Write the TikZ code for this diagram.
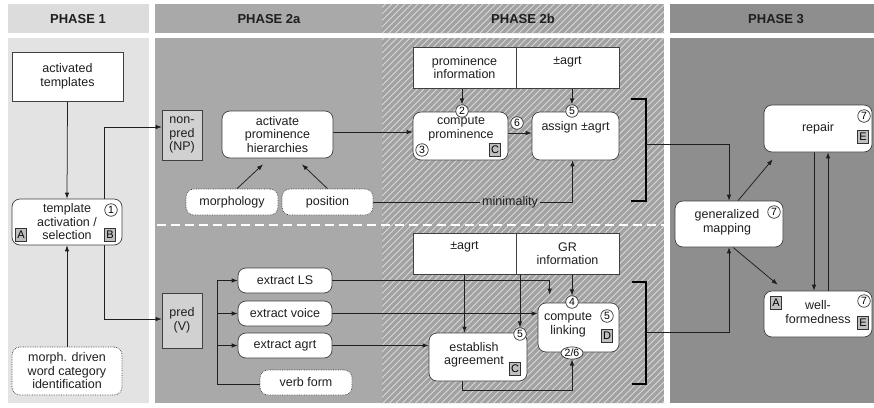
\documentclass[tikz,border=0pt]{standalone}
\usepackage{fontspec}
\setmainfont{Liberation Sans}
\usetikzlibrary{arrows.meta,calc,shapes.geometric}
\pgfdeclarelayer{bg}\pgfdeclarelayer{lines}
\pgfsetlayers{bg,lines,main}
\definecolor{pOneHd}{HTML}{DCDCDC}
\definecolor{pOneBd}{HTML}{E3E3E3}
\definecolor{pTwoA}{HTML}{A9A9A9}
\definecolor{pTwoB}{HTML}{A2A2A2}
\definecolor{hatchc}{HTML}{D8D8D8}
\definecolor{pThree}{HTML}{8E8E8E}
\begin{document}
\begin{tikzpicture}[x=1pt,y=-1pt,
  txt/.style={font=\fontsize{12.5}{13.5}\selectfont, align=center, text=black!88},
  box/.style={txt, draw=black!75, fill=white, line width=0.7pt, inner sep=0pt},
  rbox/.style={box, rounded corners=8pt},
  dbox/.style={rbox, densely dotted},
  gbox/.style={box, fill=black!18},
  circ/.style={circle, draw=black!80, fill=white, line width=0.7pt, inner sep=0pt, minimum size=12.5pt, font=\fontsize{10.5}{10}\selectfont},
  ovl/.style={ellipse, draw=black!80, fill=white, line width=0.7pt, inner sep=0.5pt, minimum height=12pt, font=\fontsize{10.5}{10}\selectfont},
  lbox/.style={draw=black!80, fill=black!25, line width=0.6pt, inner sep=0pt, minimum width=10.5pt, minimum height=12.5pt, font=\fontsize{11}{10}\selectfont},
  arr/.style={-{Latex[length=6pt,width=4.5pt]}, line width=0.75pt, draw=black!88},
  plain/.style={line width=0.75pt, draw=black!88},
  brk/.style={line width=1.5pt, draw=black},
  hdr/.style={font=\fontsize{13}{13}\selectfont\bfseries, text=black!88},
  hatch/.style={draw=hatchc, line width=1pt}
]
\useasboundingbox (0,0) rectangle (874,407);
\begin{pgfonlayer}{bg}
  \fill[white] (0,0) rectangle (874,407);
  \fill[pOneHd] (8,4) rectangle (149,33);
  \fill[pOneBd] (8,38) rectangle (149,403);
  \fill[pTwoA] (155,4) rectangle (382,33);
  \fill[pTwoA] (155,38) rectangle (382,403);
  \begin{scope}
    \clip (382,4) rectangle (664,33) (382,38) rectangle (664,403);
    \fill[pTwoB] (382,0) rectangle (664,407);
    \foreach \i in {-40,-33.5,...,670} \draw[hatch] (\i,410) -- ++(420,-420);
  \end{scope}
  \fill[pThree] (670,4) rectangle (874,33);
  \fill[pThree] (670,38) rectangle (874,403);
  \draw[white, line width=1.6pt, dash pattern=on 9pt off 5pt] (157,225) -- (664,225);
  \node[hdr] at (78,19) {PHASE 1};
  \node[hdr] at (269,19) {PHASE 2a};
  \node[hdr] at (523,19) {PHASE 2b};
  \node[hdr] at (776,19) {PHASE 3};
\end{pgfonlayer}

% Phase 1
\node[box, minimum width=111pt, minimum height=49pt] (at) at (67.5,76.5) {activated\\templates};
\node[rbox, minimum width=110pt, minimum height=46pt] (tas) at (67,222) {template\\activation /\\selection};
\node[circ] (c1) at (111,210) {1};
\node[lbox] at (21,235) {A};
\node[lbox] at (110,235) {B};
\node[dbox, minimum width=110pt, minimum height=48pt] (morph) at (67,371) {morph. driven\\word category\\identification};

% Phase 2a
\node[gbox, minimum width=40pt, minimum height=50pt] (np) at (182,135) {non-\\pred\\(NP)};
\node[gbox, minimum width=40pt, minimum height=55pt] (pv) at (182,320.5) {pred\\(V)};
\node[rbox, minimum width=111pt, minimum height=47pt] (aph) at (277.5,134.5) {activate\\prominence\\hierarchies};
\node[dbox, minimum width=92pt, minimum height=26pt] (morphology) at (232,202) {morphology};
\node[dbox, minimum width=91pt, minimum height=26pt] (position) at (327.5,202) {position};
\node[rbox, minimum width=94pt, minimum height=25pt] (els) at (285,280.5) {extract LS};
\node[rbox, minimum width=94pt, minimum height=25pt] (evo) at (285,313.5) {extract voice};
\node[rbox, minimum width=94pt, minimum height=25pt] (eag) at (285,345.5) {extract agrt};
\node[dbox, minimum width=92pt, minimum height=25pt] (vf) at (306,382.5) {verb form};

% Phase 2b upper
\node[box, minimum width=103pt, minimum height=41pt] (pinfo) at (464.5,67.5) {prominence\\information};
\node[box, minimum width=103pt, minimum height=41pt] (agrtA) at (567.5,67.5) {};
\node[txt] at (567.5,62) {±agrt};
\node[rbox, minimum width=95pt, minimum height=48pt] (cp) at (460.5,136) {};
\node[txt] at (461,129) {compute\\prominence};
\node[circ] (c2) at (462,111) {2};
\node[circ] at (422,150) {3};
\node[lbox] at (495,150) {C};
\node[rbox, minimum width=87pt, minimum height=48pt] (asg) at (575.5,136) {};
\node[txt] at (575.5,127) {assign ±agrt};
\node[circ] (c5a) at (572,111) {5};
\node[circ] (c6) at (517,123) {6};
\node[txt, inner sep=2pt] (mini) at (510,202) {minimality};

% Phase 2b lower
\node[box, minimum width=103pt, minimum height=41pt] (agrtB) at (464.5,253.5) {};
\node[txt] at (464.5,247) {±agrt};
\node[box, minimum width=103pt, minimum height=41pt] (gr) at (567.5,253.5) {};
\node[txt] at (567.5,253.5) {GR\\information};
\node[rbox, minimum width=81pt, minimum height=49pt] (cl) at (578.5,327.5) {};
\node[txt] at (568,324.5) {compute\\linking};
\node[circ] (c4) at (572,302) {4};
\node[circ] at (607,316) {5};
\node[lbox] at (607,336) {D};
\node[ovl] (c26) at (572,353) {2/6};
\node[rbox, minimum width=98pt, minimum height=48pt] (ea) at (478,357) {};
\node[txt] at (474,355) {establish\\agreement};
\node[circ] (c5e) at (520,334) {5};
\node[lbox] at (515,369) {C};

% Phase 3
\node[rbox, minimum width=108pt, minimum height=46pt] (gm) at (729,224) {};
\node[txt] at (727,222.5) {generalized\\mapping};
\node[circ] at (774,212) {7};
\node[rbox, minimum width=108pt, minimum height=47pt] (rep) at (818,128.5) {repair};
\node[circ] at (864,116) {7};
\node[lbox] at (863,137) {E};
\node[rbox, minimum width=108pt, minimum height=46pt] (wf) at (818,314) {};
\node[txt] at (818,312) {well-\\formedness};
\node[circ] at (864,301) {7};
\node[lbox] at (863,323) {E};
\node[lbox] at (776,303) {A};

\begin{pgfonlayer}{lines}
  % Phase 1
  \draw[arr] (at.south) -- (tas.north);
  \draw[arr] (morph.north) -- (tas.south);
  \coordinate (t1) at (104,127);
  \coordinate (t2) at (104,319);
  \draw[plain, {Latex[length=6pt,width=4.5pt]}-{Latex[length=6pt,width=4.5pt]}] (t1 -| np.west) -- (t1) -- (t2) -- (t2 -| pv.west);
  % Phase 2a
  \draw[arr] ($(morphology.north)+(5,0)$) -- ($(aph.south)+(-14.5,6)$);
  \draw[arr] (position.north) -- ($(aph.south)+(24.5,6)$);
  \draw[arr] (aph.east |- 0,132) -- (cp.west |- 0,132);
  \draw[plain] (position.east) -- (mini.west);
  \draw[arr] (mini.east) -| ($(asg.south)+(-3,0)$);
  \coordinate (tr) at (217,0);
  \draw[plain] (tr |- els.west) -- (tr |- 0,384) -- (vf.west |- 0,384);
  \draw[arr] (tr |- els.west) -- (els.west);
  \draw[arr] (tr |- evo.west) -- (evo.west);
  \draw[arr] (tr |- eag.west) -- (eag.west);
  % Phase 2b upper
  \draw[arr] (pinfo.south -| c2) -- (c2.north);
  \draw[arr] (agrtA.south -| c5a) -- (c5a.north);
  \draw[arr] (cp.east |- 0,133) -- (asg.west |- 0,133);
  % Phase 2b lower
  \draw[arr] (els.east) -| ($(cl.north west)+(12,-8)$);
  \draw[arr] (evo.east) -- (evo.east -| cl.west);
  \draw[arr] (eag.east) -- (eag.east -| ea.west);
  \draw[arr] (agrtB.south) -- (agrtB.south |- ea.north);
  \draw[arr] (c5e.north |- agrtB.south) -- (c5e.north);
  \draw[arr] (c4.north |- gr.south) -- (c4.north);
  \draw[arr] ($(ea.south)+(-16,0)$) -- ++(0,9) -| (c26.south);
  % brackets
  \coordinate (ba) at (631,99);
  \coordinate (bb) at (646,99);
  \coordinate (bc) at (646,201);
  \coordinate (bd) at (631,201);
  \draw[brk] (ba) -- (bb) -- (bc) -- (bd);
  \draw[arr] (646,144) -| (gm.north);
  \coordinate (be) at (632,282);
  \coordinate (bf) at (646,282);
  \coordinate (bg) at (646,384);
  \coordinate (bh) at (632,384);
  \draw[brk] (be) -- (bf) -- (bg) -- (bh);
  \draw[arr] (646,332) -| (gm.south);
  % Phase 3
  \draw[arr] ($(gm.north)+(9,0)$) -- ($(rep.south west)+(9,7)$);
  \draw[arr] ($(gm.south)+(4,0)$) -- ($(wf.north west)+(14,-6)$);
  \draw[arr] ($(rep.south)+(-4,0)$) -- ($(wf.north)+(-4,0)$);
  \draw[arr] ($(wf.north)+(10,0)$) -- ($(rep.south)+(10,0)$);
\end{pgfonlayer}
\end{tikzpicture}
\end{document}
